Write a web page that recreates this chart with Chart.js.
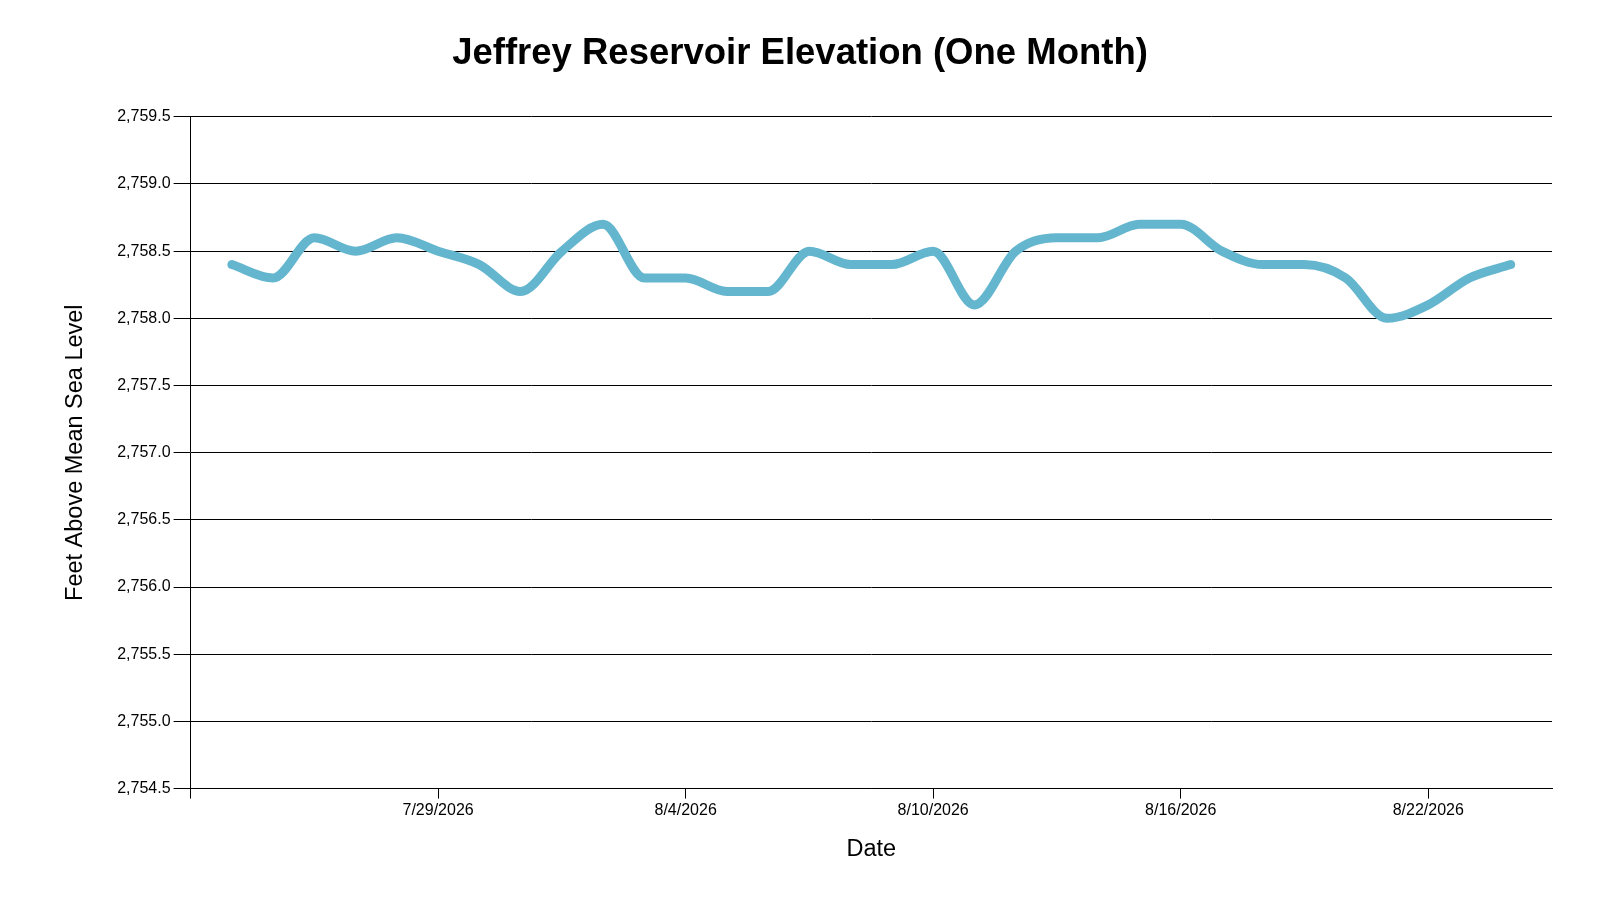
<!DOCTYPE html>
<html>
<head>
<meta charset="utf-8">
<title>Jeffrey Reservoir Elevation</title>
<script src="https://cdn.jsdelivr.net/npm/chart.js@4.4.1/dist/chart.umd.min.js"></script>
<style>
  html, body { margin: 0; padding: 0; background: #fff; }
  #wrap { width: 1600px; height: 900px; position: relative; }
</style>
</head>
<body>
<div id="wrap"><canvas id="elevation-chart"></canvas></div>
<script>
// daily readings, one month
const axisStart = '7/23/2026'
const axisDays = 33
const tickStep = 6

const dates = [
  '7/24/2026', '7/25/2026', '7/26/2026', '7/27/2026', '7/28/2026', '7/29/2026', '7/30/2026', '7/31/2026',
  '8/1/2026', '8/2/2026', '8/3/2026', '8/4/2026', '8/5/2026', '8/6/2026', '8/7/2026', '8/8/2026',
  '8/9/2026', '8/10/2026', '8/11/2026', '8/12/2026', '8/13/2026', '8/14/2026', '8/15/2026', '8/16/2026',
  '8/17/2026', '8/18/2026', '8/19/2026', '8/20/2026', '8/21/2026', '8/22/2026', '8/23/2026', '8/24/2026'
]
const elevations = [
  2758.4, 2758.3, 2758.6, 2758.5, 2758.6, 2758.5, 2758.4, 2758.2,
  2758.5, 2758.7, 2758.3, 2758.3, 2758.2, 2758.2, 2758.5, 2758.4,
  2758.4, 2758.5, 2758.1, 2758.5, 2758.6, 2758.6, 2758.7, 2758.7,
  2758.5, 2758.4, 2758.4, 2758.3, 2758.0, 2758.1, 2758.3, 2758.4
]
const yMin = 2754.5
const yMax = 2759.5
const yStep = 0.5

function parseDate(s) {
  const p = s.split('/').map(Number)
  return new Date(p[2], p[0] - 1, p[1])
}

const start = parseDate(axisStart)

function dayOffset(s) {
  return Math.round((parseDate(s) - start) / 86400000)
}

function dateLabel(offset) {
  const d = new Date(start.getFullYear(), start.getMonth(), start.getDate() + offset)
  return (d.getMonth() + 1) + '/' + d.getDate() + '/' + d.getFullYear()
}

const points = []
for (let i = 0; i < dates.length; i++) {
  points.push({ x: dayOffset(dates[i]), y: elevations[i] })
}

const font = '"Liberation Sans", Arial, sans-serif'

const ctx = document.getElementById('elevation-chart')
const chart = new Chart(ctx, {
  type: 'line',
  data: {
    datasets: [{
      label: 'Elevation',
      data: points,
      borderColor: '#64b5ce',
      borderWidth: 9,
      borderCapStyle: 'round',
      borderJoinStyle: 'round',
      cubicInterpolationMode: 'monotone',
      pointRadius: 0,
      pointHoverRadius: 0,
      fill: false
    }]
  },
  options: {
    responsive: true,
    maintainAspectRatio: false,
    animation: false,
    // same padding on both sides keeps the title centred on the page
    layout: { padding: { left: 48, right: 48, top: 0, bottom: 0 } },
    plugins: {
      legend: { display: false },
      tooltip: { enabled: false },
      title: {
        display: true,
        text: 'Jeffrey Reservoir Elevation (One Month)',
        color: '#000',
        font: { family: font, size: 36.5, weight: 'bold' },
        padding: { top: 32, bottom: 41 }
      }
    },
    scales: {
      x: {
        type: 'linear',
        min: 0,
        max: axisDays,
        afterBuildTicks: function (scale) {
          scale.ticks = scale.ticks.filter(function (t) { return t.value % tickStep === 0 })
        },
        ticks: {
          stepSize: tickStep,
          autoSkip: false,
          maxRotation: 0,
          padding: 2,
          color: '#000',
          font: { family: font, size: 16 },
          callback: function (value) {
            return value === 0 ? '' : dateLabel(value)
          }
        },
        grid: {
          drawOnChartArea: false,
          drawTicks: true,
          tickLength: 10,
          color: '#000',
          lineWidth: 1
        },
        border: { display: true, color: '#000', width: 1 },
        title: {
          display: true,
          text: 'Date',
          color: '#000',
          font: { family: font, size: 23.5 },
          padding: { top: 14, bottom: 36 }
        }
      },
      y: {
        min: yMin,
        max: yMax,
        ticks: {
          stepSize: yStep,
          padding: 3,
          color: '#000',
          font: { family: font, size: 16 },
          callback: function (value) {
            return value.toLocaleString('en-US', { minimumFractionDigits: 1, maximumFractionDigits: 1 })
          }
        },
        grid: {
          drawTicks: true,
          tickLength: 17,
          color: '#000',
          lineWidth: 1
        },
        border: { display: true, color: '#000', width: 1 },
        title: {
          display: true,
          text: 'Feet Above Mean Sea Level',
          color: '#000',
          font: { family: font, size: 23.5 },
          padding: { top: 13, bottom: 25 }
        }
      }
    }
  }
})
</script>
</body>
</html>
